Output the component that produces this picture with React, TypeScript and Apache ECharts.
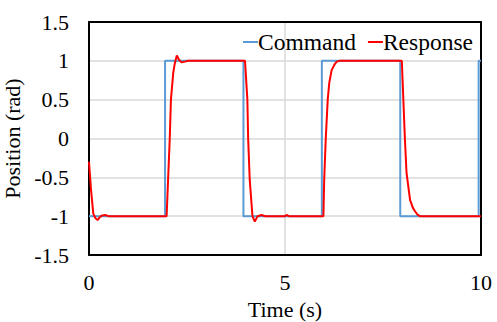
import React, { useEffect, useRef } from "react";
import * as echarts from "echarts";

const commandTime = [0, 1.94, 1.94, 3.94, 3.94, 5.94, 5.94, 7.94, 7.94, 9.94, 9.94, 10];
const commandValue = [-1, -1, 1, 1, -1, -1, 1, 1, -1, -1, 1, 1];

const responseTime = [
  0, 0.05, 0.11, 0.17, 0.22, 0.28, 0.34, 0.41, 0.5, 1.0, 1.5, 1.98,
  2.02, 2.06, 2.09, 2.15, 2.19, 2.24, 2.3, 2.36, 2.45, 2.53, 3.0, 3.5, 3.98,
  4.04, 4.06, 4.1, 4.17, 4.23, 4.3, 4.4, 4.5, 5.0, 5.04, 5.1, 5.5, 5.98,
  6.0, 6.04, 6.09, 6.13, 6.19, 6.26, 6.32, 6.4, 7.0, 7.5, 7.98,
  8.06, 8.1, 8.19, 8.26, 8.32, 8.38, 8.44, 9.0, 9.5, 10,
];
const responseValue = [
  -0.3, -0.65, -0.97, -1.03, -1.05, -1.01, -0.99, -0.985, -1.0, -1.0, -1.0, -1.0,
  -0.5, 0.0, 0.5, 0.85, 0.97, 1.07, 1.01, 0.98, 0.99, 1.0, 1.0, 1.0, 1.0,
  0.5, 0.0, -0.53, -1.0, -1.07, -1.0, -0.985, -1.0, -1.0, -0.985, -1.0, -1.0, -1.0,
  -0.53, 0.0, 0.5, 0.72, 0.88, 0.95, 0.99, 1.0, 1.0, 1.0, 1.0,
  -0.02, -0.44, -0.79, -0.89, -0.94, -0.98, -1.0, -1.0, -1.0, -1.0,
];

const seriesNames = ["Command", "Response"];
const xAxisTitle = "Time (s)";
const yAxisTitle = "Position (rad)";

const FONT = "Liberation Serif";
const BLACK_LINE = { show: true, onZero: false, lineStyle: { color: "#000000", width: 2 } };

export default function App() {
  const ref = useRef<HTMLDivElement>(null);
  useEffect(() => {
    if (!ref.current) return;
    const chart = echarts.init(ref.current, undefined, { renderer: "svg" });
    chart.setOption({
      animation: false,
      backgroundColor: "#ffffff",
      textStyle: { fontFamily: FONT, color: "#000" },
      grid: {
        left: 89,
        top: 22,
        right: 16,
        bottom: 67,
        containLabel: false,
        outerBoundsMode: "none",
      },
      legend: {
        right: 19,
        top: 25,
        itemWidth: 15,
        itemHeight: 2,
        itemGap: 12,
        icon: "rect",
        textStyle: { fontFamily: FONT, fontSize: 23.5, color: "#000", padding: [0, 0, 0, -5] },
        data: seriesNames,
      },
      xAxis: [
        {
          type: "value",
          position: "bottom",
          min: 0,
          max: 10,
          interval: 5,
          name: xAxisTitle,
          nameLocation: "middle",
          nameGap: 43,
          nameTextStyle: { fontFamily: FONT, fontSize: 22, color: "#000" },
          axisLine: BLACK_LINE,
          axisTick: { show: false },
          axisLabel: { fontFamily: FONT, fontSize: 22, color: "#000", margin: 16 },
          splitLine: { show: true, lineStyle: { color: "#d9d9d9", width: 1.5 } },
          z: 3,
        },
        {
          type: "value",
          position: "top",
          min: 0,
          max: 10,
          interval: 5,
          axisLine: BLACK_LINE,
          axisTick: { show: false },
          axisLabel: { show: false },
          splitLine: { show: false },
          z: 3,
        },
      ],
      yAxis: [
        {
          type: "value",
          position: "left",
          min: -1.5,
          max: 1.5,
          interval: 0.5,
          name: yAxisTitle,
          nameLocation: "middle",
          nameGap: 61,
          nameTextStyle: { fontFamily: FONT, fontSize: 22, color: "#000" },
          axisLine: BLACK_LINE,
          axisTick: { show: false },
          axisLabel: { fontFamily: FONT, fontSize: 22, color: "#000", margin: 20 },
          splitLine: { show: true, lineStyle: { color: "#d9d9d9", width: 1.5 } },
          z: 3,
        },
        {
          type: "value",
          position: "right",
          min: -1.5,
          max: 1.5,
          interval: 0.5,
          axisLine: BLACK_LINE,
          axisTick: { show: false },
          axisLabel: { show: false },
          splitLine: { show: false },
          z: 3,
        },
      ],
      series: [
        {
          name: seriesNames[0],
          type: "line",
          showSymbol: false,
          color: "#5b9bd5",
          lineStyle: { color: "#5b9bd5", width: 2 },
          data: commandTime.map((t, i) => [t, commandValue[i]]),
        },
        {
          name: seriesNames[1],
          type: "line",
          showSymbol: false,
          color: "#ff0000",
          lineStyle: { color: "#ff0000", width: 2 },
          data: responseTime.map((t, i) => [t, responseValue[i]]),
        },
      ],
    });
    return () => chart.dispose();
  }, []);
  return <div ref={ref} style={{ width: 497, height: 322, position: "absolute", left: 0, top: 0 }} />;
}
